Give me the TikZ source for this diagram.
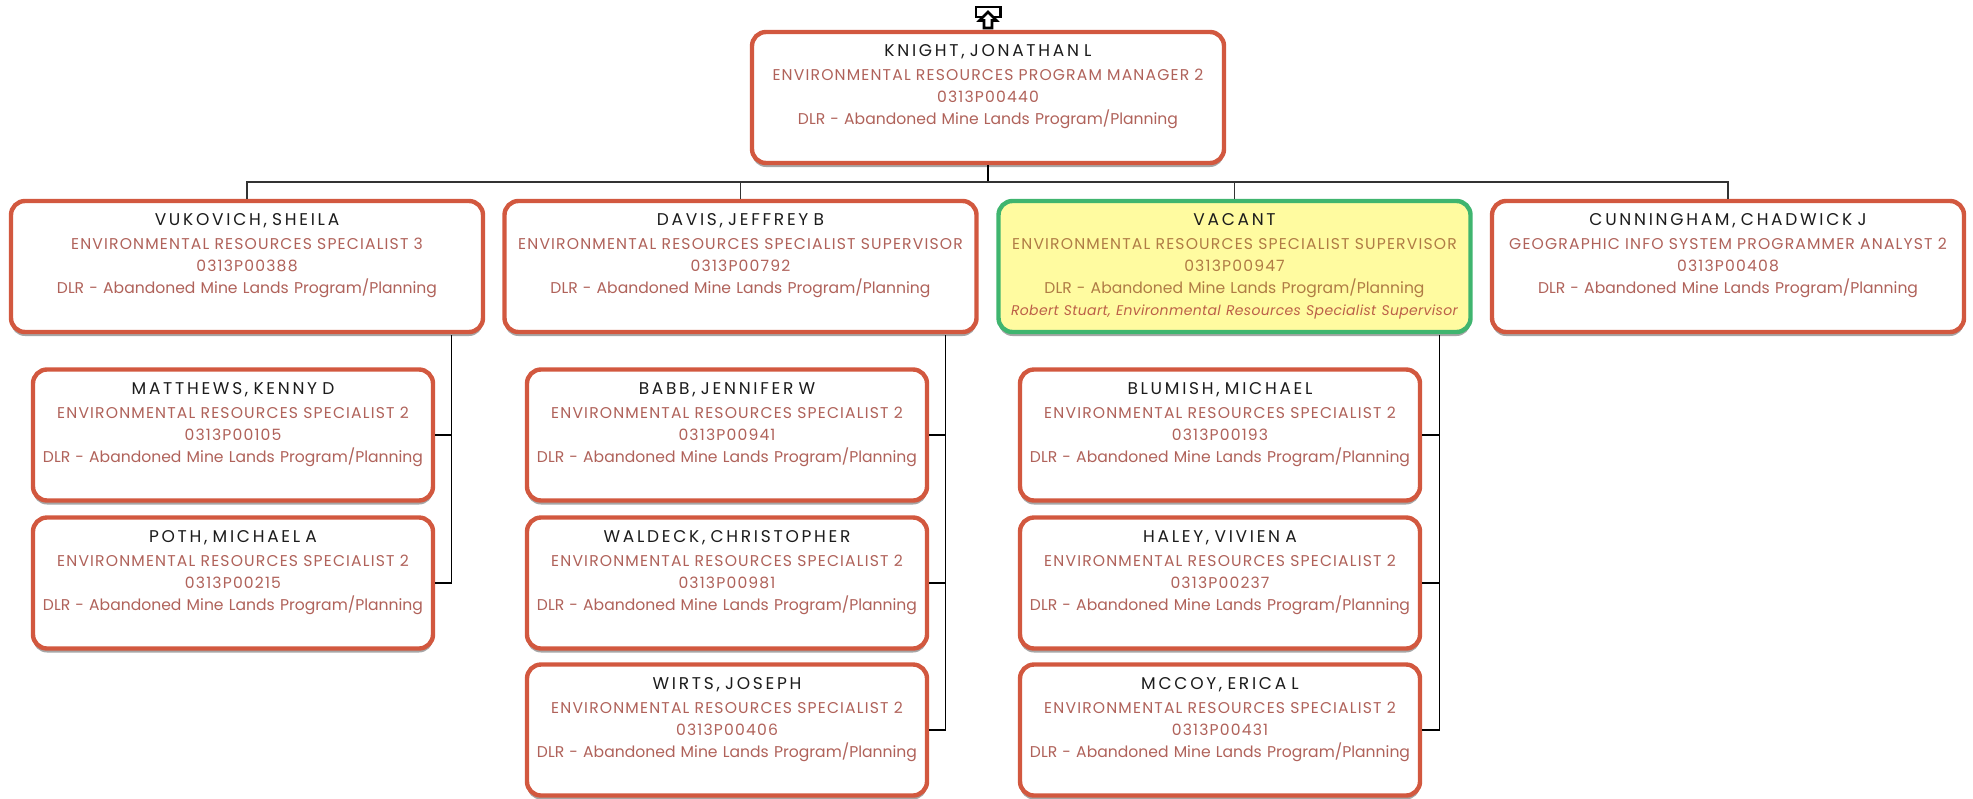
\documentclass[tikz,border=0pt]{standalone}
\usepackage{fontspec}
\setmainfont[LetterSpace=7.5]{Poppins}
\newfontfamily\namefont[LetterSpace=16]{Poppins}
\newfontfamily\deptfont{Poppins}
\newfontfamily\notefont[LetterSpace=2.5]{Poppins}
\usetikzlibrary{shadows}
\definecolor{boxred}{HTML}{D2583F}
\definecolor{boxgreen}{HTML}{3FB56F}
\definecolor{boxyellow}{HTML}{FFFBA0}
\definecolor{rolered}{HTML}{B0625A}
\definecolor{roleyellow}{HTML}{B07C45}
\definecolor{notered}{HTML}{BC6048}
\definecolor{namedark}{HTML}{1C1C1C}
\newcommand{\emp}[5]{\rule{0pt}{7.7pt}{\namefont\fontsize{8.5}{11}\selectfont\color{namedark}#1}\\[1pt]#2\\#3\\{\deptfont #4}\\{\notefont\fontsize{7}{11}\selectfont\color{notered}\itshape #5\strut}}

\begin{document}
\begin{tikzpicture}[x=0.5pt,y=-0.5pt]
   \tikzset{person/.style={draw=boxred,fill=white,line width=2.2pt,rounded corners=7pt,
      text=rolered,text width=#1,align=center,inner xsep=0pt,inner ysep=0pt,minimum height=65.5pt,
      font=\fontsize{7.8}{11}\selectfont,
      drop shadow={shadow xshift=0pt,shadow yshift=-2pt,fill=black!35,opacity=1}},
      lead/.style={person=236pt},
      staff/.style={person=200pt},
      vacant/.style={draw=boxgreen,fill=boxyellow,text=roleyellow},
      bus/.style={draw=black!80,line width=0.7pt},
      link/.style={draw=black,line width=0.6pt}};

\useasboundingbox (0,0) rectangle (1973,798);

% top
\node[lead] (0) at (988,97.5) {\emp{KNIGHT, JONATHAN L}{ENVIRONMENTAL RESOURCES PROGRAM MANAGER 2}{0313P00440}{DLR - Abandoned Mine Lands Program/Planning}{}};

% second row
\node[lead] (1) at (247,266.5) {\emp{VUKOVICH, SHEILA}{ENVIRONMENTAL RESOURCES SPECIALIST 3}{0313P00388}{DLR - Abandoned Mine Lands Program/Planning}{}};
\node[lead] (2) at (740.5,266.5) {\emp{DAVIS, JEFFREY B}{ENVIRONMENTAL RESOURCES SPECIALIST SUPERVISOR}{0313P00792}{DLR - Abandoned Mine Lands Program/Planning}{}};
\node[lead,vacant] (3) at (1234.5,266.5) {\emp{VACANT}{ENVIRONMENTAL RESOURCES SPECIALIST SUPERVISOR}{0313P00947}{DLR - Abandoned Mine Lands Program/Planning}{Robert Stuart, Environmental Resources Specialist Supervisor}};
\node[lead] (4) at (1728,266.5) {\emp{CUNNINGHAM, CHADWICK J}{GEOGRAPHIC INFO SYSTEM PROGRAMMER ANALYST 2}{0313P00408}{DLR - Abandoned Mine Lands Program/Planning}{}};

% first column
\node[staff] (5) at (233,435) {\emp{MATTHEWS, KENNY D}{ENVIRONMENTAL RESOURCES SPECIALIST 2}{0313P00105}{DLR - Abandoned Mine Lands Program/Planning}{}};
\node[staff] (6) at (233,583) {\emp{POTH, MICHAEL A}{ENVIRONMENTAL RESOURCES SPECIALIST 2}{0313P00215}{DLR - Abandoned Mine Lands Program/Planning}{}};

% second column
\node[staff] (7) at (727,435) {\emp{BABB, JENNIFER W}{ENVIRONMENTAL RESOURCES SPECIALIST 2}{0313P00941}{DLR - Abandoned Mine Lands Program/Planning}{}};
\node[staff] (8) at (727,583) {\emp{WALDECK, CHRISTOPHER}{ENVIRONMENTAL RESOURCES SPECIALIST 2}{0313P00981}{DLR - Abandoned Mine Lands Program/Planning}{}};
\node[staff] (9) at (727,730) {\emp{WIRTS, JOSEPH}{ENVIRONMENTAL RESOURCES SPECIALIST 2}{0313P00406}{DLR - Abandoned Mine Lands Program/Planning}{}};

% third column
\node[staff] (10) at (1220,435) {\emp{BLUMISH, MICHAEL}{ENVIRONMENTAL RESOURCES SPECIALIST 2}{0313P00193}{DLR - Abandoned Mine Lands Program/Planning}{}};
\node[staff] (11) at (1220,583) {\emp{HALEY, VIVIEN A}{ENVIRONMENTAL RESOURCES SPECIALIST 2}{0313P00237}{DLR - Abandoned Mine Lands Program/Planning}{}};
\node[staff] (12) at (1220,730) {\emp{MCCOY, ERICA L}{ENVIRONMENTAL RESOURCES SPECIALIST 2}{0313P00431}{DLR - Abandoned Mine Lands Program/Planning}{}};

\coordinate (hub) at (988,182);
\coordinate (t1) at (451.5,335);
\coordinate (t2) at (945.5,335);
\coordinate (t3) at (1439.5,335);

\draw[link] (0.south) -- (hub);
\foreach \i in {1,2,3,4} \draw[bus] (\i.north) |- (hub);
\foreach \i in {5,6} \draw[link] (\i.east) -| (t1);
\foreach \i in {7,8,9} \draw[link] (\i.east) -| (t2);
\foreach \i in {10,11,12} \draw[link] (\i.east) -| (t3);

% up marker
\draw[black,line width=1.3pt,fill=white] (976,7) rectangle (1000.5,17);
\draw[black,line width=1.3pt,fill=white] (988,12) -- (996.5,20.5) -- (992,20.5) -- (992,28) -- (984,28) -- (984,20.5) -- (979.5,20.5) -- cycle;

\end{tikzpicture}
\end{document}
